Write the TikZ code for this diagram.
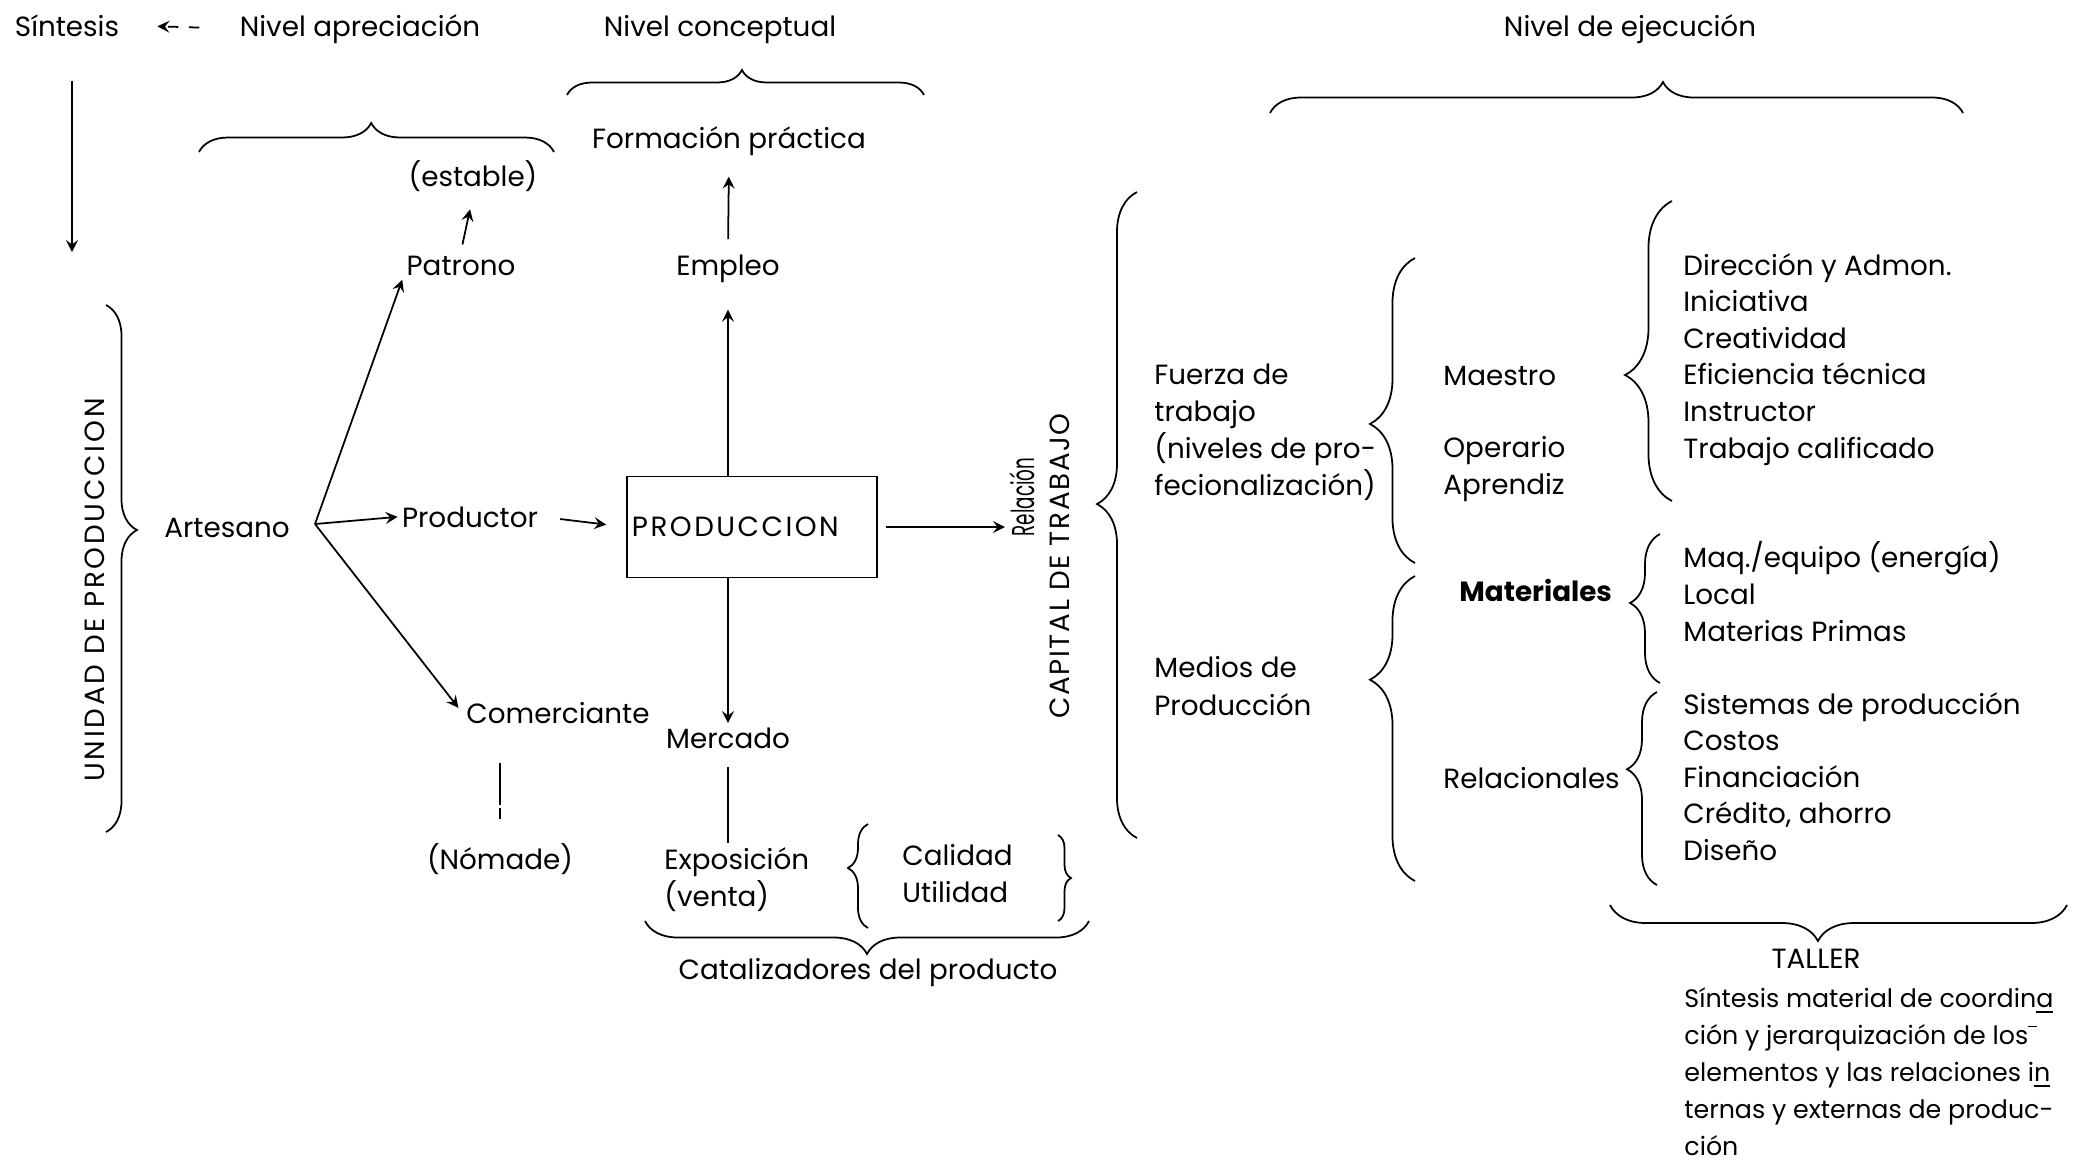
\documentclass[tikz,border=0pt]{standalone}
\usepackage{fontspec}
\setmainfont{Poppins}
\usetikzlibrary{decorations.pathreplacing,calc}
\newcommand{\diagfont}{\fontsize{7.9}{10}\selectfont}
\tikzset{%
  lbl/.style={
    font=\diagfont,
    inner sep=1pt,
    anchor=base
  },
  item/.style={lbl, anchor=base west},
  vlbl/.style={font=\diagfont, inner sep=1pt, rotate=90},
  prod box/.style={
    draw,
    font=\diagfont\addfontfeature{LetterSpace=9},
    minimum width=2.5cm,
    minimum height=1.01cm,
    text width=2.4cm,
    inner xsep=0.05cm,
    align=left
  },
  curly/.style 2 args={decorate, decoration={brace, amplitude=#1, aspect=#2}}
 }

\begin{document}
\begin{tikzpicture}[x=0.01cm, y=-0.01cm, >=stealth, line width=0.5pt]
\useasboundingbox (0,0) rectangle (2078,1159);

% levels
\node [lbl] (sintesis)    at (67,36)   {Síntesis};
\node [lbl] (apreciacion) at (360,36)  {Nivel apreciación};
\node [lbl] (conceptual)  at (720,36)  {Nivel conceptual};
\node [lbl] (ejecucion)   at (1630,36) {Nivel de ejecución};

\draw [curly={0.29cm}{0.485}] (199,152) -- (554,152);
\draw [curly={0.25cm}{0.49}]  (567,95) -- (924,95);
\draw [curly={0.31cm}{0.567}] (1270,113) -- (1963,113);

\draw [->, dashed, shorten <=0.36cm, shorten >=0.34cm] (apreciacion.west) -- (sintesis.east);
\coordinate (sintEnd) at (72,252);
\draw [->, shorten <=0.4cm] (sintesis.south -| sintEnd) -- (sintEnd);

% unidad de produccion
\node [vlbl, font=\diagfont\addfontfeature{LetterSpace=10}] (unidad) at (95,590) {UNIDAD DE PRODUCCION};
\draw [curly={0.31cm}{0.427}] (106,305) -- (106,832);

\node [lbl] (artesano)    at (227,537) {Artesano};
\node [lbl] (patrono)     at (461,275) {Patrono};
\node [lbl] (estable)     at (473,186) {(estable)};
\node [lbl] (productor)   at (470,527) {Productor};
\node [lbl] (comerciante) at (558,723) {Comerciante};
\node [lbl] (nomade)      at (500,869) {(Nómade)};

\coordinate (fork) at (315,524);
\draw [->] (fork) -- (patrono.south west);
\draw [->] (fork) -- (productor.west);
\draw [->, shorten >=0.06cm] (fork) -- (comerciante.west);
\draw [->, shorten <=0.07cm, shorten >=0.14cm] (patrono.north) -- (estable.south);
\draw [dash pattern=on 12pt off 1pt, shorten <=0.35cm, shorten >=0.2cm] (nomade.north |- comerciante.south) -- (nomade.north);

% produccion
\node [prod box] (produccion) at (752,527) {PRODUCCION};
\node [lbl] (empleo)    at (728,275) {Empleo};
\node [lbl] (formacion) at (729,148) {Formación práctica};
\node [lbl] (mercado)   at (728,748) {Mercado};
\node [lbl, anchor=base west] (exposicion) at (660,869) {Exposición};
\node [lbl, anchor=base west] (venta)      at (660,906) {(venta)};
\node [lbl, anchor=base west] (calidad)    at (898,865) {Calidad};
\node [lbl, anchor=base west] (utilidad)   at (898,902) {Utilidad};
\node [lbl] (catalizadores) at (868,979) {Catalizadores del producto};

\draw [->, shorten <=0.18cm, shorten >=0.2cm] (productor.east) -- (produccion.west);
\draw [->, shorten >=0.23cm] (produccion.north -| empleo) -- (empleo.south);
\draw [->, shorten <=0.11cm, shorten >=0.17cm] (empleo.north) -- (formacion.south);
\draw [->] (produccion.south -| mercado) -- (mercado.north);
\draw [shorten <=0.14cm] (mercado.south) -- (mercado.south |- exposicion.north);

\draw [curly={0.2cm}{0.577}]  (868,928) -- (868,824);
\draw [curly={0.13cm}{0.5}]   (1058,835) -- (1058,921);
\draw [curly={0.33cm}{0.5}]   (1089,921) -- (645,921);

% capital de trabajo
\node [vlbl, font=\fontsize{9}{10}\selectfont] (relacion) at (1022,497) {\scalebox{0.58}[1]{Relación}};
\node [vlbl, font=\diagfont\addfontfeature{LetterSpace=6}] (capital) at (1060,566) {CAPITAL DE TRABAJO};
\draw [->, shorten <=0.08cm] (produccion.east) -- (produccion.east -| relacion.north);
\draw [curly={0.4cm}{0.517}] (1137,838) -- (1137,192);

\foreach \t [count=\i from 0] in {Fuerza de, trabajo, {(niveles de pro-}, {fecionalización)}}
  \node [item] (fuerza-\i) at (1150, 384+37*\i) {\t};
\foreach \t [count=\i from 0] in {Medios de, Producción}
  \node [item] (medios-\i) at (1150, 677+38*\i) {\t};

\draw [curly={0.45cm}{0.456}] (1415,563) -- (1415,258);
\draw [curly={0.45cm}{0.66}]  (1415,881) -- (1415,576);

\node [item] (maestro)      at (1439,385) {Maestro};
\node [item] (operario)     at (1439,457) {Operario};
\node [item] (aprendiz)     at (1439,494) {Aprendiz};
\node [item, font=\diagfont\bfseries] (materiales) at (1455,601) {Materiales};
\node [item] (relacionales) at (1439,788) {Relacionales};

\draw [curly={0.47cm}{0.42}]  (1672,501) -- (1672,201);
\draw [curly={0.3cm}{0.537}]  (1660,683) -- (1660,534);
\draw [curly={0.3cm}{0.6}]    (1657,885) -- (1657,692);

\foreach \t [count=\i from 0] in {Dirección y Admon., Iniciativa, Creatividad, Eficiencia técnica, Instructor, Trabajo calificado}
  \node [item] (maestro-\i) at (1679, 275+36.6*\i) {\t};
\foreach \t [count=\i from 0] in {Maq./equipo (energía), Local, Materias Primas}
  \node [item] (material-\i) at (1679, 567+37*\i) {\t};
\foreach \t [count=\i from 0] in {Sistemas de producción, Costos, Financiación, {Crédito, ahorro}, Diseño}
  \node [item] (relacional-\i) at (1679, 714+36.6*\i) {\t};

% taller
\draw [curly={0.36cm}{0.545}] (2067,905) -- (1610,905);
\node [lbl] (taller) at (1816,968) {TALLER};
\foreach \t [count=\i from 0] in {Síntesis material de coordin\underline{a},
    ción y jerarquización de los\rlap{\raisebox{1.2ex}{\rule{0.35em}{0.4pt}}},
    elementos y las relaciones i\underline{n},
    ternas y externas de produc-,
    ción}
  \node [item, font=\fontsize{7.2}{9}\selectfont] (sintesis-\i) at (1680, 1007+37*\i) {\t};

\end{tikzpicture}
\end{document}
